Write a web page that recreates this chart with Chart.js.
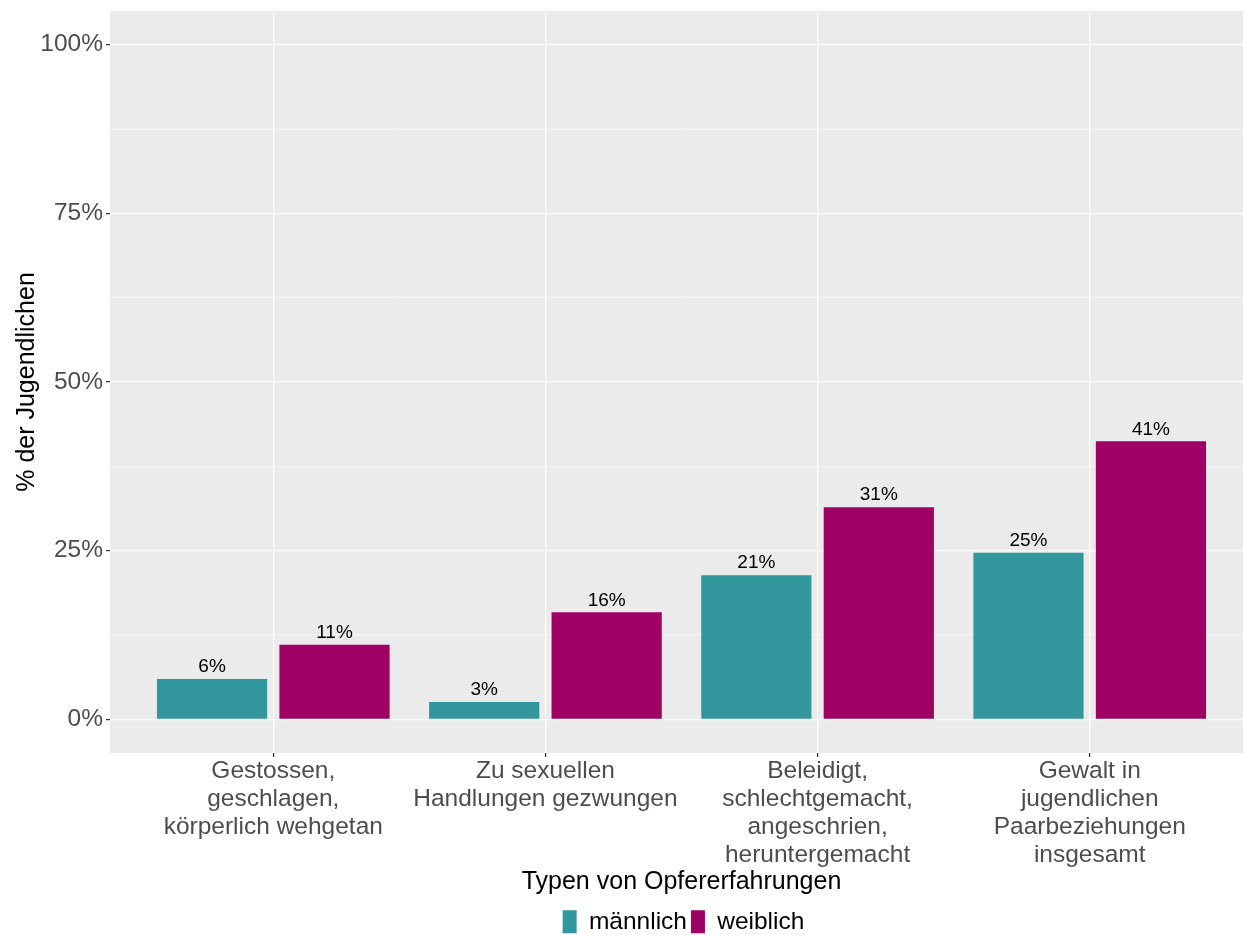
<!DOCTYPE html>
<html>
<head>
<meta charset="utf-8">
<script src="https://cdn.jsdelivr.net/npm/chart.js@4"></script>
<style>
  html, body { margin: 0; padding: 0; background: #fff; overflow: hidden; }
  #wrap { width: 1243px; height: 935px; overflow: hidden; }
</style>
</head>
<body>
<div id="wrap"><canvas id="chart" width="1260" height="944"></canvas></div>
<script>
// Category labels (multi-line) and values in percent
const categories = [
    ['Gestossen,', 'geschlagen,', 'körperlich wehgetan'],
    ['Zu sexuellen', 'Handlungen gezwungen'],
    ['Beleidigt,', 'schlechtgemacht,', 'angeschrien,', 'heruntergemacht'],
    ['Gewalt in', 'jugendlichen', 'Paarbeziehungen', 'insgesamt']
];
const maleValues = [5.97, 2.56, 21.35, 24.7];
const femaleValues = [11.05, 15.85, 31.45, 41.2];
const yTicks = [0, 12.5, 25, 37.5, 50, 62.5, 75, 87.5, 100];
const seriesNames = ['männlich', 'weiblich'];

const FONT = "'Liberation Sans', Arial, sans-serif";
const isMajor = v => v % 25 === 0;

// Panel background (ggplot grey)
const panelBg = {
    id: 'panelBg',
    beforeDraw(chart) {
        const { ctx, chartArea: a } = chart;
        ctx.save();
        ctx.fillStyle = '#EBEBEB';
        ctx.fillRect(a.left, a.top, a.right - a.left, a.bottom - a.top);
        ctx.restore();
    }
};

// center the legend under the panel instead of the whole canvas
const legendShift = {
    id: 'legendShift',
    afterLayout(chart) {
        if (!chart.legend) return;
        chart.legend.left += 57;
        chart.legend.right += 57;
    }
};

// Value labels above bars
const barLabels = {
    id: 'barLabels',
    afterDatasetsDraw(chart) {
        const { ctx } = chart;
        ctx.save();
        ctx.fillStyle = '#000';
        ctx.font = `19px ${FONT}`;
        ctx.textAlign = 'center';
        ctx.textBaseline = 'middle';
        chart.data.datasets.forEach((ds, i) => {
            chart.getDatasetMeta(i).data.forEach((bar, j) => {
                ctx.fillText(Math.round(ds.data[j].y) + '%', bar.x, bar.y - 12);
            });
        });
        ctx.restore();
    }
};

const toPoints = vals => vals.map((v, i) => ({ x: i + 1, y: v }));

new Chart(document.getElementById('chart').getContext('2d'), {
    type: 'bar',
    data: {
        datasets: [
            { label: seriesNames[0], data: toPoints(maleValues), backgroundColor: '#31979C' },
            { label: seriesNames[1], data: toPoints(femaleValues), backgroundColor: '#9E0064' }
        ]
    },
    options: {
        responsive: false,
        animation: false,
        devicePixelRatio: 1,
        categoryPercentage: 0.9,
        barPercentage: 0.9,
        layout: { padding: { top: 11, right: 7, left: 0, bottom: 0 } },
        plugins: {
            legend: {
                position: 'bottom',
                labels: {
                    font: { family: FONT, size: 24.5 },
                    color: '#000',
                    boxWidth: 14,
                    boxHeight: 23,
                    padding: 4
                }
            },
            tooltip: { enabled: false }
        },
        scales: {
            x: {
                type: 'linear',
                min: 0.4,
                max: 4.6,
                offset: false,
                afterBuildTicks: s => { s.ticks = categories.map((c, i) => ({ value: i + 1 })); },
                afterFit: s => { s.height = 152.5; },
                ticks: {
                    autoSkip: false,
                    maxRotation: 0,
                    padding: 0,
                    color: '#4D4D4D',
                    font: { family: FONT, size: 24.5, lineHeight: 28 / 24.5 },
                    callback: v => categories[v - 1]
                },
                grid: {
                    offset: false,
                    color: '#FFFFFF',
                    lineWidth: 1.2,
                    tickLength: 4,
                    tickColor: '#333333'
                },
                border: { display: false },
                title: {
                    display: true,
                    text: 'Typen von Opfererfahrungen',
                    color: '#000',
                    font: { family: FONT, size: 25 },
                    padding: { top: 0, bottom: 8.5 }
                }
            },
            y: {
                min: -5,
                max: 105,
                afterBuildTicks: s => { s.ticks = yTicks.map(v => ({ value: v })); },
                afterFit: s => {
                    s.width = 110;
                    s.paddingTop = 0;
                    s.paddingBottom = 0;
                },
                ticks: {
                    padding: 3,
                    color: '#4D4D4D',
                    font: { family: FONT, size: 24.5 },
                    callback: v => isMajor(v) ? v + '%' : ''
                },
                grid: {
                    color: '#FFFFFF',
                    lineWidth: ctx => isMajor(ctx.tick.value) ? 1.2 : 0.6,
                    tickLength: 4,
                    tickColor: ctx => isMajor(ctx.tick.value) ? '#333333' : 'rgba(0,0,0,0)'
                },
                border: { display: false },
                title: {
                    display: true,
                    text: '% der Jugendlichen',
                    color: '#000',
                    font: { family: FONT, size: 25 },
                    padding: { top: 12, bottom: 0 }
                }
            }
        }
    },
    plugins: [panelBg, legendShift, barLabels]
});
</script>
</body>
</html>
